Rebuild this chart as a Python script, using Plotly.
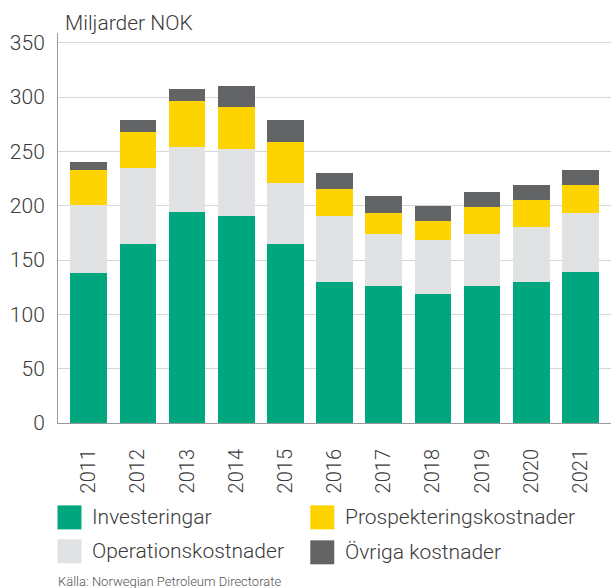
import plotly.graph_objects as go

years = ["2011", "2012", "2013", "2014", "2015", "2016", "2017", "2018", "2019", "2020", "2021"]
investeringar = [138, 165, 194, 191, 165, 130, 126, 119, 126, 130, 139]
operation = [63, 70, 60, 61, 56, 61, 48, 49, 48, 50, 54]
prospektering = [32, 33, 42, 39, 38, 24, 19, 18, 25, 25, 26]
ovriga = [7, 11, 11, 19, 20, 15, 16, 14, 14, 14, 14]

series_names = ["Investeringar", "Operationskostnader", "Prospekteringskostnader", "Övriga kostnader"]
series_values = [investeringar, operation, prospektering, ovriga]
colors = ["#00A67E", "#E1E2E4", "#FDD300", "#636466"]

W, H = 611, 588
L, T, R, B = 57.5, 33, 0, 164.5
PW = W - L - R
PH = H - T - B

FONT = "Roboto"
TXT = "#3a3a3a"


def px(x):
    return (x - L) / PW


def py(y):
    return (H - B - y) / PH


fig = go.Figure()
for name, vals, col in zip(series_names, series_values, colors):
    fig.add_trace(go.Bar(x=years, y=vals, name=name, marker=dict(color=col, line=dict(width=0)),
                         showlegend=False, hoverinfo="skip"))

shapes = []
annotations = []

# custom legend (squares + labels)
legend_items = [
    (series_names[0], colors[0], 57, 506),
    (series_names[1], colors[1], 57, 540),
    (series_names[2], colors[2], 310, 506),
    (series_names[3], colors[3], 310, 541),
]
for name, col, x0, y0 in legend_items:
    shapes.append(dict(type="rect", xref="paper", yref="paper",
                       x0=px(x0), x1=px(x0 + 24), y0=py(y0 + 24), y1=py(y0),
                       fillcolor=col, line=dict(width=0)))
    annotations.append(dict(xref="paper", yref="paper", x=px(x0 + 33), y=py(y0 + 12),
                            xanchor="left", yanchor="middle", text=name, showarrow=False,
                            font=dict(family=FONT, size=21, color=TXT, weight=300)))

annotations.append(dict(xref="paper", yref="paper", x=px(63), y=py(23),
                        xanchor="left", yanchor="middle", text="Miljarder NOK", showarrow=False,
                        font=dict(family=FONT, size=21, color=TXT, weight=300)))
annotations.append(dict(xref="paper", yref="paper", x=px(55), y=py(582),
                        xanchor="left", yanchor="middle",
                        text="Källa: Norwegian Petroleum Directorate", showarrow=False,
                        font=dict(family=FONT, size=13, color="#555555", weight=300)))

fig.update_layout(
    width=W, height=H,
    margin=dict(l=L, r=R, t=T, b=B, pad=0, autoexpand=False),
    barmode="stack",
    bargap=0.254,
    plot_bgcolor="white",
    paper_bgcolor="white",
    font=dict(family=FONT, size=20, color=TXT, weight=300),
    shapes=shapes,
    annotations=annotations,
    showlegend=False,
)
fig.update_xaxes(
    range=[-0.626, 10.624],
    automargin=False,
    showline=True, linecolor="#9a9a9a", linewidth=1,
    showgrid=False, ticks="", tickangle=-90,
    ticklabelstandoff=17,
    tickfont=dict(family=FONT, size=20, color=TXT, weight=300),
)
fig.update_yaxes(
    range=[0, 359],
    dtick=50,
    automargin=False,
    showline=True, linecolor="#9a9a9a", linewidth=1,
    showgrid=True, gridcolor="#d6d6d6", gridwidth=1,
    zeroline=False, ticks="",
    ticklabelstandoff=8,
    tickfont=dict(family=FONT, size=21, color=TXT, weight=300),
)

fig.write_html("out.html", config={"displayModeBar": False},
               post_script="document.body.style.margin='0';")
